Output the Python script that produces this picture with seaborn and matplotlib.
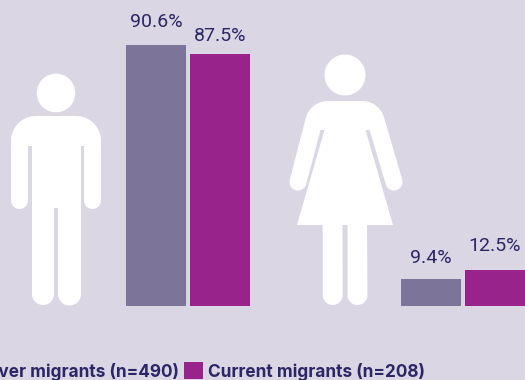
import numpy as np
import pandas as pd
import matplotlib
matplotlib.use("Agg")
import matplotlib.pyplot as plt
from matplotlib.patches import Circle, Polygon
import seaborn as sns

# Survey shares by sex and migration status
sexes = ["Men", "Women"]
never_migrants = [90.6, 9.4]
current_migrants = [87.5, 12.5]
status_labels = ["Never migrants (n=490)", "Current migrants (n=208)"]

BG = "#DAD6E3"
NEVER = "#7D7499"
CURRENT = "#98248B"
INK = "#2B2665"

sns.set_theme(style="white")
plt.rcParams["font.family"] = ["Inter", "DejaVu Sans"]

df = pd.DataFrame({
    "sex": sexes * 2,
    "status": [status_labels[0]] * 2 + [status_labels[1]] * 2,
    "share": never_migrants + current_migrants,
})

W, H = 525, 380
fig = plt.figure(figsize=(W / 100, H / 100), dpi=100, facecolor=BG)
ax = fig.add_axes([0, 0, 1, 1])

sns.barplot(data=df, x="sex", y="share", hue="status", order=sexes,
            hue_order=status_labels, palette=[NEVER, CURRENT],
            width=128 / 275, gap=4 / 64, saturation=1, linewidth=0, ax=ax)

# One category step is 275 px, one percentage point is 2.87 px
ax.set_xlim(-188 / 275, (W - 188) / 275)
ax.set_ylim(-(H - 305.5) / 2.87, 305.5 / 2.87)
ax.set_axis_off()

# Value labels above the bars, gaps given in pixels
label_pads = [[18, 15.5], [13, 19]]
for container, pads in zip(ax.containers, label_pads):
    for bar, pad in zip(container, pads):
        val = bar.get_height()
        ax.annotate(f"{val:.1f}%", (bar.get_x() + bar.get_width() / 2, val),
                    xytext=(0, pad * 0.72), textcoords="offset points",
                    ha="center", va="baseline", fontsize=14, color=INK,
                    family=["Roboto", "DejaVu Sans"])

# Legend runs past the left edge of the canvas
handles, labels = ax.get_legend_handles_labels()
leg = ax.legend(handles, labels, ncol=2, frameon=False, loc="center left",
                bbox_to_anchor=(-48 / W, 1 - 371.5 / H),
                prop={"weight": "bold", "size": 12.4},
                labelcolor=INK, handlelength=1.1, handleheight=1.1,
                handletextpad=0.25, columnspacing=0.3,
                borderpad=0, borderaxespad=0)


def arc(cx, cy, r, a0, a1, n=32):
    t = np.radians(np.linspace(a0, a1, n))
    return list(zip(cx + r * np.cos(t), cy + r * np.sin(t)))


# Pictograms live on an overlay measured in canvas pixels, y pointing down
icons = fig.add_axes([0, 0, 1, 1], facecolor="none")
icons.set_xlim(0, W)
icons.set_ylim(H, 0)
icons.set_axis_off()

# Man
man = [(28, 146)] + arc(19.5, 200.5, 8.5, 0, 180)
man += arc(36, 141, 25, 180, 270) + arc(76, 141, 25, 270, 360)
man += arc(92.5, 200.5, 8.5, 0, 180)
man += [(84, 146), (81, 146)] + arc(69.5, 294, 11.5, 0, 180)
man += [(58, 208), (54, 208)] + arc(43, 294, 11, 0, 180) + [(32, 146)]
icons.add_patch(Polygon(man, closed=True, fc="white", ec="none"))
icons.add_patch(Circle((56, 93), 19.3, fc="white", ec="none"))

# Woman
woman = [(320.5, 130)] + arc(298, 182, 8.5, 15, 195)
woman += arc(328, 124, 23, 195, 270) + arc(362, 124, 23, 270, 345)
woman += arc(394, 182, 8.5, -15, 165)
woman += [(369.5, 130), (365.5, 130), (393, 225), (367, 225)]
woman += arc(357.5, 295, 10, 0, 180)
woman += [(347.5, 225), (342.5, 225)]
woman += arc(332.7, 295, 10, 0, 180)
woman += [(322.7, 225), (297, 225), (324.5, 130)]
icons.add_patch(Polygon(woman, closed=True, fc="white", ec="none"))
icons.add_patch(Circle((345, 75), 20.5, fc="white", ec="none"))

fig.savefig("out.png", dpi=100, facecolor=BG)
